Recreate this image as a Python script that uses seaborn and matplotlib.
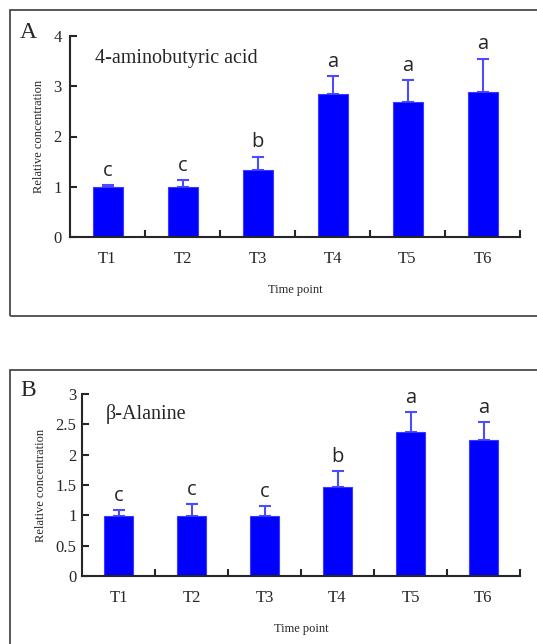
import numpy as np
import pandas as pd
import matplotlib.pyplot as plt
import seaborn as sns
from matplotlib.patches import Rectangle

times = ["T1", "T2", "T3", "T4", "T5", "T6"]

# panel A: 4-aminobutyric acid
gaba_mean = [1.00, 1.00, 1.34, 2.84, 2.68, 2.88]
gaba_err = [0.04, 0.13, 0.26, 0.37, 0.45, 0.67]
gaba_letters = ["c", "c", "b", "a", "a", "a"]

# panel B: beta-alanine
ala_mean = [0.99, 0.99, 0.99, 1.46, 2.37, 2.24]
ala_err = [0.10, 0.19, 0.16, 0.27, 0.33, 0.30]
ala_letters = ["c", "c", "c", "b", "a", "a"]

sns.set_style("ticks")
plt.rcParams["font.family"] = ["Liberation Serif", "DejaVu Serif"]

fig = plt.figure(figsize=(5.37, 6.44), dpi=100)

# panel frames
fig.patches.append(Rectangle((10 / 537, 1 - 316 / 644), 1.0, 306 / 644, transform=fig.transFigure,
                             fill=False, edgecolor="#4a4a4a", linewidth=1.3, zorder=0))
fig.patches.append(Rectangle((10 / 537, -0.05), 1.0, 0.05 + 1 - 370 / 644, transform=fig.transFigure,
                             fill=False, edgecolor="#4a4a4a", linewidth=1.3, zorder=0))

axA = fig.add_axes([70 / 537, 1 - 237 / 644, 450 / 537, 201 / 644])
axB = fig.add_axes([82 / 537, 1 - 576 / 644, 438 / 537, 182 / 644])


def draw(ax, means, errs, letters, title, ymax, yticks, yticklabels, ypad):
    df = pd.DataFrame({"time": times, "value": means})
    sns.barplot(data=df, x="time", y="value", color="#0000ff", saturation=1, width=0.4,
                errorbar=None, ax=ax, zorder=2)
    for p in ax.patches:
        p.set_edgecolor("#3a3aff")
        p.set_linewidth(0.8)
    x = np.arange(len(times))
    ax.errorbar(x, means, yerr=[np.zeros(len(errs)), errs], fmt="none", ecolor="#4b4bff",
                elinewidth=1.5, capsize=4, capthick=1.5, zorder=1)
    for xi, m, e, lab in zip(x, means, errs, letters):
        ax.annotate(lab, (xi, m + e), xytext=(0, 3), textcoords="offset points", ha="center",
                    va="bottom", fontsize=14.5, family="Open Sans", annotation_clip=False)
    ax.set_xlim(-0.5, 5.5)
    ax.set_ylim(0, ymax)
    ax.set_yticks(yticks)
    ax.set_yticklabels(yticklabels, fontsize=12)
    ax.set_xticks(x)
    ax.set_xticklabels(times, fontsize=12)
    ax.set_xticks(np.arange(0.5, 6.0, 1.0), minor=True)
    ax.tick_params(axis="x", which="major", length=0, pad=10)
    ax.tick_params(axis="x", which="minor", direction="in", length=5, width=1.5)
    ax.tick_params(axis="y", direction="in", length=5, width=1.5, pad=ypad)
    for s in ["top", "right"]:
        ax.spines[s].set_visible(False)
    for s in ["left", "bottom"]:
        ax.spines[s].set_linewidth(1.5)
    ax.set_xlabel("Time point", fontsize=9, labelpad=12)
    ax.set_ylabel("Relative concentration", fontsize=9, labelpad=6)
    ax.text(0.055, 0.89, title, transform=ax.transAxes, fontsize=14.5, va="center")
    ax.set_facecolor("none")


draw(axA, gaba_mean, gaba_err, gaba_letters, "4-aminobutyric acid", 4,
     [0, 1, 2, 3, 4], ["0", "1", "2", "3", "4"], 6)
draw(axB, ala_mean, ala_err, ala_letters, "β-Alanine", 3,
     [0, 0.5, 1, 1.5, 2, 2.5, 3], ["0", "0.5", "1", "1.5", "2", "2.5", "3"], 4)

fig.text(20 / 537, 1 - 33 / 644, "A", fontsize=17, va="center")
fig.text(20 / 537, 1 - 390 / 644, "B", fontsize=17, va="center")

fig.savefig("out.png", dpi=100)
